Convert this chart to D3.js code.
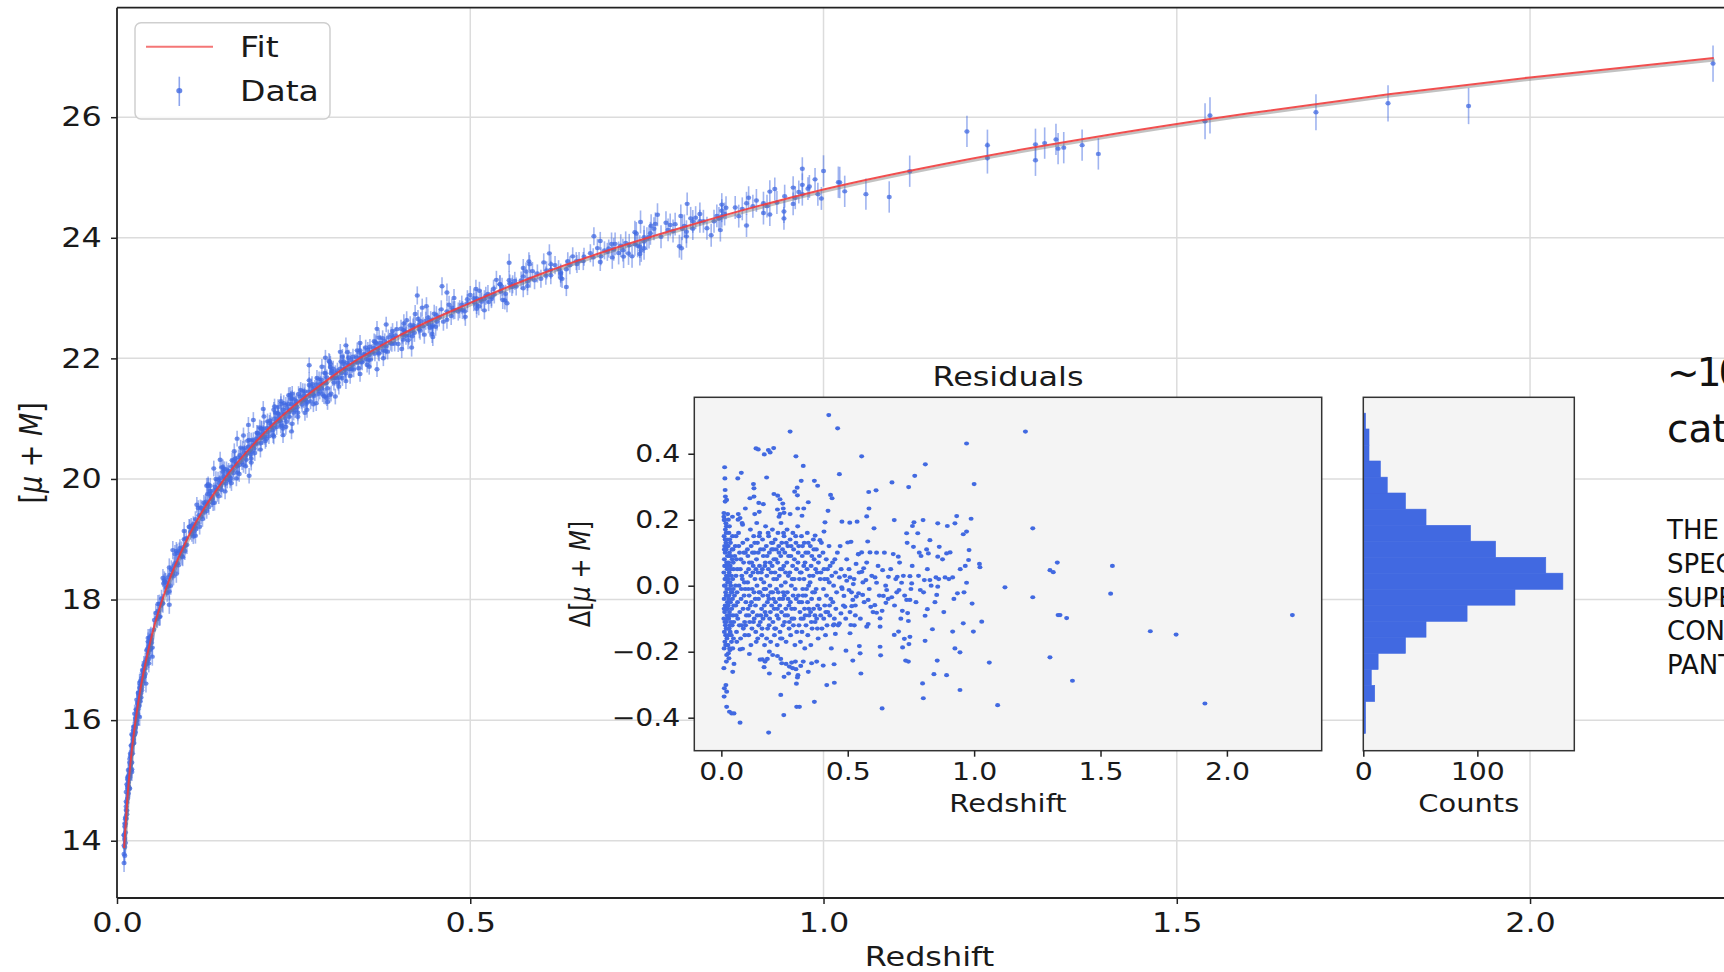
<!DOCTYPE html>
<html>
<head>
<meta charset="utf-8">
<script src="https://cdn.jsdelivr.net/npm/d3@7"></script>
<style>
  body { margin: 0; background: #fff; overflow: hidden; }
  svg { display: block; font-family: "DejaVu Sans", sans-serif; }
</style>
</head>
<body>
<svg id="chart" width="1724" height="972"></svg>
<script>
// ---- data ----
// fitted Hubble curve, apparent magnitude mu + M against redshift
const fitZ   = [0.01, 0.015, 0.02, 0.03, 0.05, 0.07, 0.1, 0.15, 0.2, 0.3, 0.4, 0.5, 0.6, 0.7, 0.8, 1.0, 1.2, 1.4, 1.6, 1.8, 2.0, 2.26];
const fitMag = [13.88, 14.76, 15.40, 16.29, 17.44, 18.20, 19.02, 19.97, 20.66, 21.66, 22.38, 22.92, 23.40, 23.81, 24.17, 24.80, 25.29, 25.70, 26.06, 26.38, 26.66, 26.98];

// supernovae: [redshift, residual from the fit]
const snPoints = [
  [0.425,0.517],[0.46,0.477],[0.272,0.467],[1.203,0.467],[0.97,0.431],[0.555,0.392],[0.295,0.392],[0.137,0.416],[0.146,0.413],
  [0.17,0.398],[0.186,0.411],[0.207,0.417],[0.193,0.404],[0.324,0.363],[0.807,0.368],[0.765,0.333],[0.467,0.338],[0.013,0.359],
  [0.079,0.342],[0.065,0.325],[0.014,0.325],[0.127,0.308],[0.129,0.295],[0.179,0.328],[0.316,0.318],[0.368,0.318],[0.381,0.303],
  [0.675,0.313],[0.741,0.299],[1.0,0.308],[0.583,0.284],[0.612,0.289],[0.30,0.297],[0.29,0.285],[0.015,0.29],[0.432,0.275],
  [0.438,0.265],[0.129,0.27],[0.208,0.278],[0.223,0.273],[0.232,0.262],[0.301,0.274],[0.113,0.265],[0.016,0.27],[0.021,0.26],
  [0.015,0.255],[0.148,0.251],[0.166,0.247],[0.344,0.253],[0.095,0.234],[0.243,0.249],[0.245,0.234],[0.575,0.21],[0.584,0.234],
  [0.302,0.234],[0.422,0.227],[0.132,0.217],[0.15,0.224],[0.222,0.231],[0.232,0.217],[0.248,0.221],[0.228,0.209],[0.272,0.217],
  [0.326,0.234],[0.319,0.212],[0.025,0.217],[0.044,0.209],[0.010,0.209],[0.011,0.199],[0.018,0.189],[0.067,0.217],[0.074,0.205],
  [0.084,0.185],[0.931,0.211],[0.924,0.189],[0.988,0.203],[0.762,0.192],[0.756,0.181],[0.798,0.199],[0.856,0.189],[0.684,0.199],
  [0.477,0.194],[0.508,0.191],[0.537,0.194],[0.604,0.174],[1.232,0.174],[0.894,0.181],[0.97,0.164],[0.957,0.156],[0.733,0.159],
  [0.777,0.159],[0.825,0.138],[0.41,0.192],[0.406,0.164],[0.371,0.152],[0.39,0.138],[0.68,0.096],[0.70,0.088],[0.542,0.096],
  [0.555,0.101],[0.588,0.101],[0.614,0.1],[0.50,0.131],[0.513,0.133],[0.579,0.134],[0.76,0.118],[0.783,0.1],[0.812,0.11],
  [0.819,0.098],[0.856,0.088],[0.862,0.118],[0.891,0.098],[0.905,0.101],[0.98,0.108],[0.978,0.078],[1.021,0.066],[1.023,0.056],
  [1.30,0.047],[1.313,0.041],[1.329,0.07],[1.122,-0.005],[1.232,-0.035],[1.332,-0.089],[1.30,-0.217],[1.06,-0.233],[1.093,-0.362],
  [0.944,-0.316],[0.891,-0.271],[0.854,-0.227],[0.841,-0.268],[0.796,-0.296],[0.799,-0.341],[0.944,-0.202],[0.924,-0.19],
  [0.915,-0.139],[0.957,-0.114],[0.997,-0.139],[0.992,-0.054],[1.03,-0.109],[0.934,-0.023],[0.97,0.009],[0.885,0.025],[0.915,0.025],
  [0.849,0.025],[0.856,-0.003],[0.852,-0.028],[0.803,0.017],[0.825,0.017],[0.787,-0.013],[0.815,-0.071],[0.806,-0.091],
  [0.835,-0.132],[0.806,-0.167],[0.724,-0.161],[0.742,-0.177],[0.746,-0.155],[0.717,-0.187],[0.729,-0.227],[0.74,-0.23],
  [0.701,-0.139],[0.684,-0.149],[0.716,-0.076],[0.737,-0.083],[0.74,-0.107],[0.746,-0.043],[0.733,-0.043],[0.703,-0.013],
  [0.713,0.009],[0.746,0.029],[0.753,0.007],[0.694,-0.02],[0.654,-0.013],[0.674,-0.035],[0.638,0.047],[0.661,0.027],[0.696,0.027],
  [0.608,0.025],[0.614,0.009],[0.581,-0.043],[0.591,-0.064],[0.607,-0.059],[0.614,-0.082],[0.628,-0.099],[0.628,-0.124],
  [0.641,-0.031],[0.651,-0.052],[0.636,-0.076],[0.628,-0.185],[0.63,-0.211],[0.636,-0.372],[0.575,-0.124],[0.581,-0.116],
  [0.546,-0.183],[0.549,-0.205],[0.552,-0.266],[0.52,-0.227],[0.493,-0.197],[0.509,-0.144],[0.512,-0.119],[0.526,-0.12],
  [0.53,-0.09],[0.509,-0.08],[0.516,-0.062],[0.52,-0.043],[0.534,-0.033],[0.543,-0.023],[0.559,-0.028],[0.496,0.015],
  [0.505,-0.013],[0.522,0.005],[0.509,0.025],[0.556,0.042],[0.563,0.053],[0.572,0.017],[0.533,0.066],[0.542,0.095],[0.467,0.025],
  [0.476,-0.005],[0.485,-0.031],[0.489,-0.064],[0.473,-0.084],[0.467,-0.114],[0.446,-0.117],[0.451,-0.146],[0.446,-0.238],
  [0.447,-0.294],[0.417,-0.301],[0.403,-0.242],[0.368,-0.352],[0.298,-0.367],[0.309,-0.367],[0.247,-0.392],[0.235,-0.331],
  [0.187,-0.445],[0.074,-0.415],[0.021,-0.367],[0.032,-0.382],[0.041,-0.387],[0.05,-0.387],[0.011,-0.336],[0.021,-0.321],
  [0.018,-0.301],[0.012,-0.311],[0.010,-0.25],[0.045,-0.261],[0.05,-0.237],[0.02,-0.23],[0.028,-0.205],[0.034,-0.195],
  [0.074,-0.193],[0.084,-0.191],[0.153,-0.224],[0.162,-0.223],[0.173,-0.23],[0.182,-0.222],[0.169,-0.247],[0.19,-0.266],
  [0.19,-0.2],[0.203,-0.21],[0.222,-0.213],[0.235,-0.222],[0.239,-0.235],[0.256,-0.237],[0.269,-0.245],[0.282,-0.25],
  [0.295,-0.253],[0.293,-0.23],[0.303,-0.271],[0.278,-0.233],[0.314,-0.243],[0.324,-0.23],[0.344,-0.261],[0.357,-0.235],
  [0.377,-0.23],[0.297,-0.297],[0.301,-0.278],[0.248,-0.276],[0.266,-0.266],[0.111,-0.207],
  [1.547,0.06],[1.540,-0.024],[1.697,-0.138],[1.799,-0.148],[1.913,-0.357],[1.389,-0.288],[1.340,-0.089],[1.366,-0.098],[2.259,-0.089],
  // low-redshift column
  [0.011,0.15],[0.013,0.12],[0.015,0.10],[0.012,0.08],[0.016,0.06],[0.010,0.04],[0.014,0.02],[0.012,0.00],[0.017,-0.02],
  [0.011,-0.04],[0.015,-0.06],[0.013,-0.08],[0.010,-0.10],[0.016,-0.12],[0.012,-0.14],[0.014,-0.17],[0.011,-0.19],
  [0.020,0.18],[0.022,0.14],[0.019,0.11],[0.024,0.09],[0.021,0.07],[0.023,0.05],[0.020,0.03],[0.025,0.01],[0.022,-0.01],
  [0.019,-0.03],[0.024,-0.05],[0.021,-0.07],[0.023,-0.09],[0.020,-0.11],[0.025,-0.13],[0.022,-0.16],[0.024,-0.18],[0.021,-0.21],
  [0.028,0.20],[0.030,0.16],[0.027,0.12],[0.032,0.10],[0.029,0.07],[0.031,0.04],[0.028,0.02],[0.033,-0.01],[0.030,-0.03],
  [0.027,-0.06],[0.032,-0.08],[0.029,-0.10],[0.031,-0.13],[0.028,-0.15],[0.033,-0.19],[0.030,-0.22],
  [0.036,0.13],[0.038,0.09],[0.035,0.06],[0.040,0.03],[0.037,0.00],[0.039,-0.02],[0.036,-0.05],[0.041,-0.07],[0.038,-0.11],
  [0.035,-0.14],[0.040,-0.17],[0.044,0.15],[0.046,0.11],[0.043,0.08],[0.048,0.05],[0.045,0.02],[0.047,-0.01],[0.044,-0.04],
  [0.049,-0.06],[0.046,-0.09],[0.043,-0.12],[0.048,-0.16],[0.045,-0.19],[0.010,0.22],[0.013,0.20],[0.016,0.17],[0.018,0.13],
  [0.017,0.02],[0.018,-0.07],[0.017,-0.15],[0.013,0.06],[0.026,0.06],[0.034,0.01],[0.026,-0.10],[0.035,-0.09],
  [0.012,0.11],[0.014,-0.11],[0.016,0.00],[0.019,0.16],[0.019,-0.13],[0.023,0.12],[0.023,-0.03],[0.026,-0.18],[0.027,0.03],
  [0.029,-0.04],[0.031,0.09],[0.033,0.14],[0.034,-0.12],[0.037,0.05],[0.039,-0.15],[0.042,0.11],[0.042,-0.02],[0.047,0.07],
  [0.049,-0.11],[0.011,-0.07],[0.015,0.14],[0.017,-0.18],[0.025,-0.07],[0.032,0.18],
  // 0.05 - 0.1
  [0.055,0.12],[0.060,0.08],[0.058,0.03],[0.062,-0.02],[0.057,-0.06],[0.065,-0.10],[0.060,-0.14],[0.068,0.16],[0.072,0.10],
  [0.075,0.05],[0.070,0.00],[0.078,-0.04],[0.073,-0.08],[0.080,-0.12],[0.076,-0.16],[0.085,0.13],[0.088,0.07],[0.083,0.02],
  [0.090,-0.03],[0.086,-0.07],[0.092,-0.11],[0.095,0.10],[0.098,0.04],[0.094,-0.01],[0.097,-0.05],[0.099,-0.09],[0.093,-0.15],
  [0.082,0.19],[0.066,0.20],[0.052,-0.03],
  [0.053,0.09],[0.056,0.00],[0.059,-0.09],[0.063,0.05],[0.064,-0.05],[0.069,0.12],[0.071,-0.12],[0.077,0.08],[0.079,-0.01],
  [0.081,0.03],[0.087,-0.13],[0.089,0.10],[0.091,0.01],[0.096,-0.12],[0.058,0.15],[0.061,-0.17],
  // 0.1 - 0.2
  [0.102,0.14],[0.105,0.09],[0.108,0.05],[0.104,0.01],[0.110,-0.03],[0.106,-0.07],[0.112,-0.11],[0.108,-0.15],
  [0.115,0.17],[0.118,0.12],[0.120,0.07],[0.116,0.03],[0.122,-0.01],[0.119,-0.05],[0.124,-0.08],[0.121,-0.13],[0.117,-0.18],
  [0.128,0.15],[0.131,0.10],[0.126,0.06],[0.133,0.02],[0.129,-0.02],[0.135,-0.06],[0.130,-0.10],[0.136,-0.14],
  [0.140,0.19],[0.143,0.13],[0.139,0.08],[0.145,0.04],[0.141,0.00],[0.147,-0.04],[0.142,-0.09],[0.148,-0.12],[0.144,-0.16],
  [0.152,0.16],[0.155,0.11],[0.151,0.06],[0.157,0.02],[0.153,-0.02],[0.159,-0.07],[0.154,-0.11],[0.160,-0.15],
  [0.163,0.14],[0.166,0.09],[0.162,0.05],[0.168,0.01],[0.164,-0.03],[0.170,-0.06],[0.165,-0.10],[0.171,-0.18],
  [0.175,0.18],[0.178,0.12],[0.174,0.07],[0.180,0.03],[0.176,-0.01],[0.182,-0.05],[0.177,-0.09],[0.183,-0.13],[0.179,-0.16],
  [0.187,0.15],[0.190,0.10],[0.186,0.05],[0.192,0.00],[0.188,-0.04],[0.194,-0.08],[0.189,-0.12],[0.195,-0.17],
  [0.198,0.13],[0.197,0.04],[0.199,-0.06],
  [0.103,0.11],[0.107,-0.01],[0.109,-0.09],[0.111,0.07],[0.114,-0.06],[0.123,0.10],[0.125,0.04],[0.127,-0.11],[0.132,0.13],
  [0.134,-0.04],[0.137,0.05],[0.138,-0.17],[0.146,0.10],[0.149,-0.02],[0.150,0.15],[0.156,-0.09],[0.158,0.04],[0.161,-0.13],
  [0.167,0.11],[0.169,-0.01],[0.172,0.06],[0.173,-0.08],[0.181,0.09],[0.184,-0.03],[0.185,0.16],[0.191,-0.10],[0.193,0.07],
  [0.196,-0.02],[0.199,0.11],
  // 0.2 - 0.3
  [0.202,0.17],[0.205,0.11],[0.201,0.06],[0.207,0.02],[0.203,-0.02],[0.209,-0.07],[0.204,-0.11],[0.210,-0.15],
  [0.213,0.14],[0.216,0.08],[0.212,0.04],[0.218,-0.01],[0.214,-0.05],[0.220,-0.09],[0.215,-0.13],[0.221,-0.18],
  [0.224,0.16],[0.227,0.12],[0.223,0.07],[0.229,0.03],[0.225,-0.02],[0.231,-0.06],[0.226,-0.10],[0.232,-0.14],
  [0.236,0.19],[0.239,0.13],[0.235,0.09],[0.241,0.05],[0.237,0.00],[0.243,-0.04],[0.238,-0.08],[0.244,-0.12],[0.240,-0.16],
  [0.248,0.15],[0.251,0.10],[0.247,0.06],[0.253,0.01],[0.249,-0.03],[0.255,-0.07],[0.250,-0.11],[0.256,-0.17],
  [0.260,0.17],[0.263,0.12],[0.259,0.07],[0.265,0.03],[0.261,-0.02],[0.267,-0.06],[0.262,-0.09],[0.268,-0.13],
  [0.272,0.14],[0.275,0.09],[0.271,0.04],[0.277,0.00],[0.273,-0.05],[0.279,-0.10],[0.274,-0.15],
  [0.283,0.16],[0.286,0.11],[0.282,0.06],[0.288,0.02],[0.284,-0.03],[0.290,-0.07],[0.285,-0.12],[0.291,-0.18],
  [0.295,0.13],[0.297,0.05],[0.296,-0.04],[0.298,-0.14],
  [0.204,0.13],[0.206,-0.04],[0.208,0.08],[0.211,-0.13],[0.217,0.11],[0.219,0.02],[0.222,-0.07],[0.228,0.10],[0.230,-0.04],
  [0.233,0.05],[0.234,-0.16],[0.242,0.11],[0.245,-0.02],[0.246,0.16],[0.252,-0.09],[0.254,0.04],[0.257,0.13],[0.264,-0.04],
  [0.266,0.09],[0.269,-0.11],[0.276,0.12],[0.278,-0.07],[0.280,0.02],[0.287,-0.10],[0.289,0.08],[0.292,-0.01],[0.294,0.15],
  // 0.3 - 0.4
  [0.302,0.18],[0.306,0.12],[0.303,0.07],[0.309,0.02],[0.305,-0.03],[0.311,-0.08],[0.307,-0.12],[0.313,-0.17],
  [0.317,0.15],[0.320,0.09],[0.316,0.04],[0.322,-0.01],[0.318,-0.05],[0.324,-0.10],[0.319,-0.14],
  [0.328,0.13],[0.331,0.07],[0.327,0.02],[0.333,-0.03],[0.329,-0.07],[0.335,-0.12],[0.330,-0.19],
  [0.340,0.16],[0.343,0.10],[0.339,0.05],[0.345,0.00],[0.341,-0.05],[0.347,-0.09],[0.342,-0.15],
  [0.352,0.12],[0.355,0.06],[0.351,0.01],[0.357,-0.04],[0.353,-0.08],[0.359,-0.13],[0.354,-0.18],
  [0.364,0.14],[0.367,0.08],[0.363,0.03],[0.369,-0.02],[0.365,-0.07],[0.371,-0.11],
  [0.376,0.11],[0.379,0.04],[0.375,-0.01],[0.381,-0.06],[0.377,-0.10],[0.383,-0.16],
  [0.388,0.09],[0.391,0.02],[0.387,-0.04],[0.393,-0.09],[0.396,0.13],[0.398,-0.13],
  [0.304,0.10],[0.308,-0.05],[0.312,0.04],[0.315,-0.10],[0.321,0.12],[0.323,-0.03],[0.326,0.06],[0.332,-0.09],[0.334,0.10],
  [0.337,-0.01],[0.344,0.13],[0.346,-0.07],[0.349,0.03],[0.356,-0.11],[0.358,0.09],[0.361,-0.02],[0.366,0.11],[0.370,-0.09],
  [0.373,0.05],[0.380,-0.13],[0.384,0.07],[0.389,-0.07],[0.394,0.04],
  // 0.4 - 0.5
  [0.402,0.10],[0.406,0.05],[0.404,-0.01],[0.409,-0.06],[0.405,-0.10],[0.412,-0.15],
  [0.415,0.08],[0.419,0.02],[0.416,-0.03],[0.421,-0.08],[0.418,-0.12],
  [0.426,0.12],[0.430,0.06],[0.427,0.01],[0.433,-0.04],[0.429,-0.09],[0.435,-0.19],
  [0.440,0.07],[0.444,0.00],[0.441,-0.05],[0.447,-0.10],[0.452,0.04],[0.456,-0.02],[0.453,-0.07],[0.459,0.10],[0.462,-0.12],
  [0.470,0.12],[0.474,0.05],[0.478,-0.01],[0.483,-0.06],[0.488,0.03],[0.492,-0.10],[0.496,0.08],
  [0.408,0.02],[0.413,-0.08],[0.420,0.05],[0.428,-0.06],[0.437,0.03],[0.443,-0.12],[0.449,0.08],
  // 0.5 - 1.0
  [0.505,0.05],[0.515,-0.02],[0.525,0.02],[0.530,-0.06],[0.545,0.04],[0.550,-0.10],[0.560,0.01],[0.565,-0.05],[0.575,0.07],
  [0.585,-0.01],[0.595,0.03],[0.600,-0.08],[0.620,0.06],[0.625,-0.03],[0.645,0.10],[0.650,0.00],[0.660,-0.04],[0.670,0.05],
  [0.685,-0.06],[0.690,0.02],[0.705,0.07],[0.710,-0.10],[0.720,0.03],[0.725,-0.03],[0.735,0.13],[0.750,-0.01],[0.755,0.06],
  [0.770,-0.05],[0.780,0.03],[0.790,0.09],[0.800,-0.02],[0.815,0.05],[0.830,0.00],[0.845,-0.05],[0.860,0.02],[0.875,0.08],
  [0.880,-0.08],[0.900,0.02],[0.920,-0.04],[0.945,0.05],[0.960,-0.02],[0.965,0.06]
];

// typical error bar half-length per redshift band
const errBandEdges = [0.1, 0.4, 0.7, 1.0, 1.5];
const errBandSizes = [0.15, 0.13, 0.15, 0.19, 0.26, 0.30];

// residual histogram
const histEdges  = [-0.448, -0.399, -0.351, -0.302, -0.254, -0.205, -0.156, -0.108, -0.059, -0.011, 0.038,
                    0.086, 0.135, 0.183, 0.232, 0.281, 0.329, 0.378, 0.426, 0.475, 0.523];
const histCounts = [2, 2, 10, 7, 13, 37, 55, 91, 133, 175, 160, 116, 94, 55, 37, 21, 15, 5, 5, 2];

const mainXTicks = [0, 0.5, 1.0, 1.5, 2.0];
const mainYTicks = [14, 16, 18, 20, 22, 24, 26];
const resXTicks  = [0, 0.5, 1.0, 1.5, 2.0];
const resYTicks  = [-0.4, -0.2, 0, 0.2, 0.4];
const histXTicks = [0, 100];

// slide text beside the chart, cut by the right edge of the screenshot
const sideHead = ['~10', 'cat'];
const sideBody = ['THE (', 'SPEC', 'SUPE', 'CONS', 'PANT'];

// ---- drawing ----
const SX = 1.18;            // the screenshot is stretched sideways, glyphs follow it
const BLUE = '#4169e1';
const svg = d3.select('#chart');

const x = d3.scaleLinear().domain([0, 2.3]).range([117, 1742]);
const y = d3.scaleLinear().domain([13.05, 27.816]).range([898, 7.7]);
const fitAt = d3.scaleLog().domain(fitZ).range(fitMag);
const errAt = d3.scaleThreshold().domain(errBandEdges).range(errBandSizes);

function label(g, px, py, txt, size, anchor) {
    return g.append('text')
        .attr('transform', `translate(${px},${py}) scale(${SX},1)`)
        .attr('text-anchor', anchor)
        .attr('font-size', size)
        .attr('fill', '#1a1a1a')
        .text(txt);
}

function styleAxis(g, size) {
    g.select('.domain').remove();
    g.selectAll('.tick line').attr('stroke', '#222').attr('stroke-width', 1.5);
    g.selectAll('.tick text')
        .attr('font-size', size)
        .attr('font-family', '"DejaVu Sans", sans-serif')
        .attr('fill', '#1a1a1a')
        .attr('transform', `scale(${SX},1)`);
}

// grid of the main axes
const grid = svg.append('g').attr('stroke', '#dcdcdc').attr('stroke-width', 1.5);
grid.selectAll('line.gx').data(mainXTicks.filter(t => t > 0)).join('line').attr('class', 'gx')
    .attr('x1', d => x(d)).attr('x2', d => x(d)).attr('y1', y.range()[0]).attr('y2', y.range()[1]);
grid.selectAll('line.gy').data(mainYTicks).join('line').attr('class', 'gy')
    .attr('x1', x.range()[0]).attr('x2', x.range()[1]).attr('y1', d => y(d)).attr('y2', d => y(d));

// side text of the slide
const side = svg.append('g').attr('fill', '#111');
side.selectAll('text.head').data(sideHead).join('text').attr('class', 'head')
    .attr('x', 1667).attr('y', (d, i) => 386 + i * 56)
    .attr('font-size', 39).attr('letter-spacing', (d, i) => i === 0 ? -3 : 0)
    .text(d => d);
side.selectAll('text.body').data(sideBody).join('text').attr('class', 'body')
    .attr('x', 1667).attr('y', (d, i) => 539 + i * 33.8)
    .attr('font-size', 26)
    .text(d => d);

// main axes
const gxMain = svg.append('g').attr('transform', `translate(0,${y.range()[0]})`)
    .call(d3.axisBottom(x).tickValues(mainXTicks).tickFormat(d3.format('.1f')).tickSize(6).tickPadding(9));
styleAxis(gxMain, 27);
const gyMain = svg.append('g').attr('transform', `translate(${x.range()[0]},0)`)
    .call(d3.axisLeft(y).tickValues(mainYTicks).tickFormat(d3.format('d')).tickSize(6).tickPadding(7));
styleAxis(gyMain, 27);

// data with error bars, then the fit on top
const pts = snPoints.map(([z, d]) => ({ z, mu: fitAt(z) + d, e: errAt(z) }));
const data = svg.append('g');
data.selectAll('line').data(pts).join('line')
    .attr('x1', d => x(d.z)).attr('x2', d => x(d.z))
    .attr('y1', d => y(d.mu - d.e)).attr('y2', d => y(d.mu + d.e))
    .attr('stroke', BLUE).attr('stroke-opacity', 0.5).attr('stroke-width', 1.6);
data.selectAll('ellipse').data(pts).join('ellipse')
    .attr('cx', d => x(d.z)).attr('cy', d => y(d.mu)).attr('rx', 2.6).attr('ry', 2.2)
    .attr('fill', BLUE).attr('fill-opacity', 0.75);

const fitLine = d3.line().x((d, i) => x(fitZ[i])).y(d => y(d)).curve(d3.curveMonotoneX);
svg.append('path').datum(fitMag).attr('d', fitLine)
    .attr('transform', 'translate(1,2)')
    .attr('fill', 'none').attr('stroke', '#777').attr('stroke-opacity', 0.45).attr('stroke-width', 2.6);
svg.append('path').datum(fitMag).attr('d', fitLine)
    .attr('fill', 'none').attr('stroke', '#f03c3c').attr('stroke-opacity', 0.9).attr('stroke-width', 2);

// spines
const spines = svg.append('g').attr('stroke', '#222').attr('stroke-width', 1.8);
spines.append('line').attr('x1', x.range()[0]).attr('x2', x.range()[0]).attr('y1', y.range()[0]).attr('y2', y.range()[1]);
spines.append('line').attr('x1', x.range()[0]).attr('x2', x.range()[1]).attr('y1', y.range()[0]).attr('y2', y.range()[0]);
spines.append('line').attr('x1', x.range()[0]).attr('x2', x.range()[1]).attr('y1', y.range()[1]).attr('y2', y.range()[1]);

// main labels
label(svg, (x.range()[0] + x.range()[1]) / 2, 966, 'Redshift', 27, 'middle');
const yl = svg.append('text')
    .attr('transform', `translate(42,${(y.range()[0] + y.range()[1]) / 2}) scale(${SX},1) rotate(-90)`)
    .attr('text-anchor', 'middle').attr('font-size', 27).attr('fill', '#1a1a1a');
yl.append('tspan').text('[');
yl.append('tspan').attr('font-style', 'italic').text('μ');
yl.append('tspan').text(' + ');
yl.append('tspan').attr('font-style', 'italic').text('M');
yl.append('tspan').text(']');

// legend
const leg = svg.append('g');
leg.append('rect').attr('x', 135).attr('y', 22.7).attr('width', 195).attr('height', 96.3).attr('rx', 6)
    .attr('fill', '#fff').attr('fill-opacity', 0.8).attr('stroke', '#cfcfcf').attr('stroke-width', 1.5);
leg.append('line').attr('x1', 146).attr('x2', 213).attr('y1', 46.7).attr('y2', 46.7)
    .attr('stroke', '#f03c3c').attr('stroke-opacity', 0.7).attr('stroke-width', 2);
leg.append('line').attr('x1', 179.3).attr('x2', 179.3).attr('y1', 76.7).attr('y2', 106)
    .attr('stroke', BLUE).attr('stroke-opacity', 0.6).attr('stroke-width', 1.6);
leg.append('ellipse').attr('cx', 179.3).attr('cy', 90.7).attr('rx', 3).attr('ry', 2.6).attr('fill', BLUE).attr('fill-opacity', 0.8);
label(leg, 240, 57, 'Fit', 28, 'start');
label(leg, 240, 101, 'Data', 28, 'start');

// ---- residual inset ----
const rx = d3.scaleLinear().domain([-0.107, 2.375]).range([694.3, 1321.7]);
const ry = d3.scaleLinear().domain([-0.5, 0.571]).range([750.7, 397.3]);
const hx = d3.scaleLinear().domain([0, 185]).range([1363.3, 1574.3]);

const inset = svg.append('g');
inset.append('rect').attr('x', rx.range()[0]).attr('y', ry.range()[1])
    .attr('width', rx.range()[1] - rx.range()[0]).attr('height', ry.range()[0] - ry.range()[1]).attr('fill', '#f4f4f4');
inset.append('rect').attr('x', hx.range()[0]).attr('y', ry.range()[1])
    .attr('width', hx.range()[1] - hx.range()[0]).attr('height', ry.range()[0] - ry.range()[1]).attr('fill', '#f4f4f4');

inset.append('g').selectAll('ellipse').data(snPoints).join('ellipse')
    .attr('cx', d => rx(d[0])).attr('cy', d => ry(d[1])).attr('rx', 2.5).attr('ry', 2.1).attr('fill', BLUE);

inset.append('g').selectAll('rect').data(histCounts).join('rect')
    .attr('x', hx(0)).attr('y', (d, i) => ry(histEdges[i + 1]))
    .attr('width', d => hx(d) - hx(0)).attr('height', (d, i) => ry(histEdges[i]) - ry(histEdges[i + 1]))
    .attr('fill', BLUE).attr('stroke', BLUE).attr('stroke-width', 0.6);

const frames = inset.append('g').attr('fill', 'none').attr('stroke', '#333').attr('stroke-width', 1.5);
frames.append('rect').attr('x', rx.range()[0]).attr('y', ry.range()[1])
    .attr('width', rx.range()[1] - rx.range()[0]).attr('height', ry.range()[0] - ry.range()[1]);
frames.append('rect').attr('x', hx.range()[0]).attr('y', ry.range()[1])
    .attr('width', hx.range()[1] - hx.range()[0]).attr('height', ry.range()[0] - ry.range()[1]);

const gxRes = inset.append('g').attr('transform', `translate(0,${ry.range()[0]})`)
    .call(d3.axisBottom(rx).tickValues(resXTicks).tickFormat(d3.format('.1f')).tickSize(6).tickPadding(6));
styleAxis(gxRes, 24);
const gyRes = inset.append('g').attr('transform', `translate(${rx.range()[0]},0)`)
    .call(d3.axisLeft(ry).tickValues(resYTicks).tickFormat(d3.format('.1f')).tickSize(6).tickPadding(6));
styleAxis(gyRes, 24);
const gxHist = inset.append('g').attr('transform', `translate(0,${ry.range()[0]})`)
    .call(d3.axisBottom(hx).tickValues(histXTicks).tickFormat(d3.format('d')).tickSize(6).tickPadding(6));
styleAxis(gxHist, 24);

label(inset, (rx.range()[0] + rx.range()[1]) / 2, 386, 'Residuals', 27, 'middle');
label(inset, (rx.range()[0] + rx.range()[1]) / 2, 811.7, 'Redshift', 24.5, 'middle');
label(inset, (hx.range()[0] + hx.range()[1]) / 2, 811.7, 'Counts', 24.5, 'middle');
const ryl = inset.append('text')
    .attr('transform', `translate(590,${(ry.range()[0] + ry.range()[1]) / 2}) scale(${SX},1) rotate(-90)`)
    .attr('text-anchor', 'middle').attr('font-size', 24).attr('fill', '#1a1a1a');
ryl.append('tspan').text('Δ[');
ryl.append('tspan').attr('font-style', 'italic').text('μ');
ryl.append('tspan').text(' + ');
ryl.append('tspan').attr('font-style', 'italic').text('M');
ryl.append('tspan').text(']');
</script>
</body>
</html>
